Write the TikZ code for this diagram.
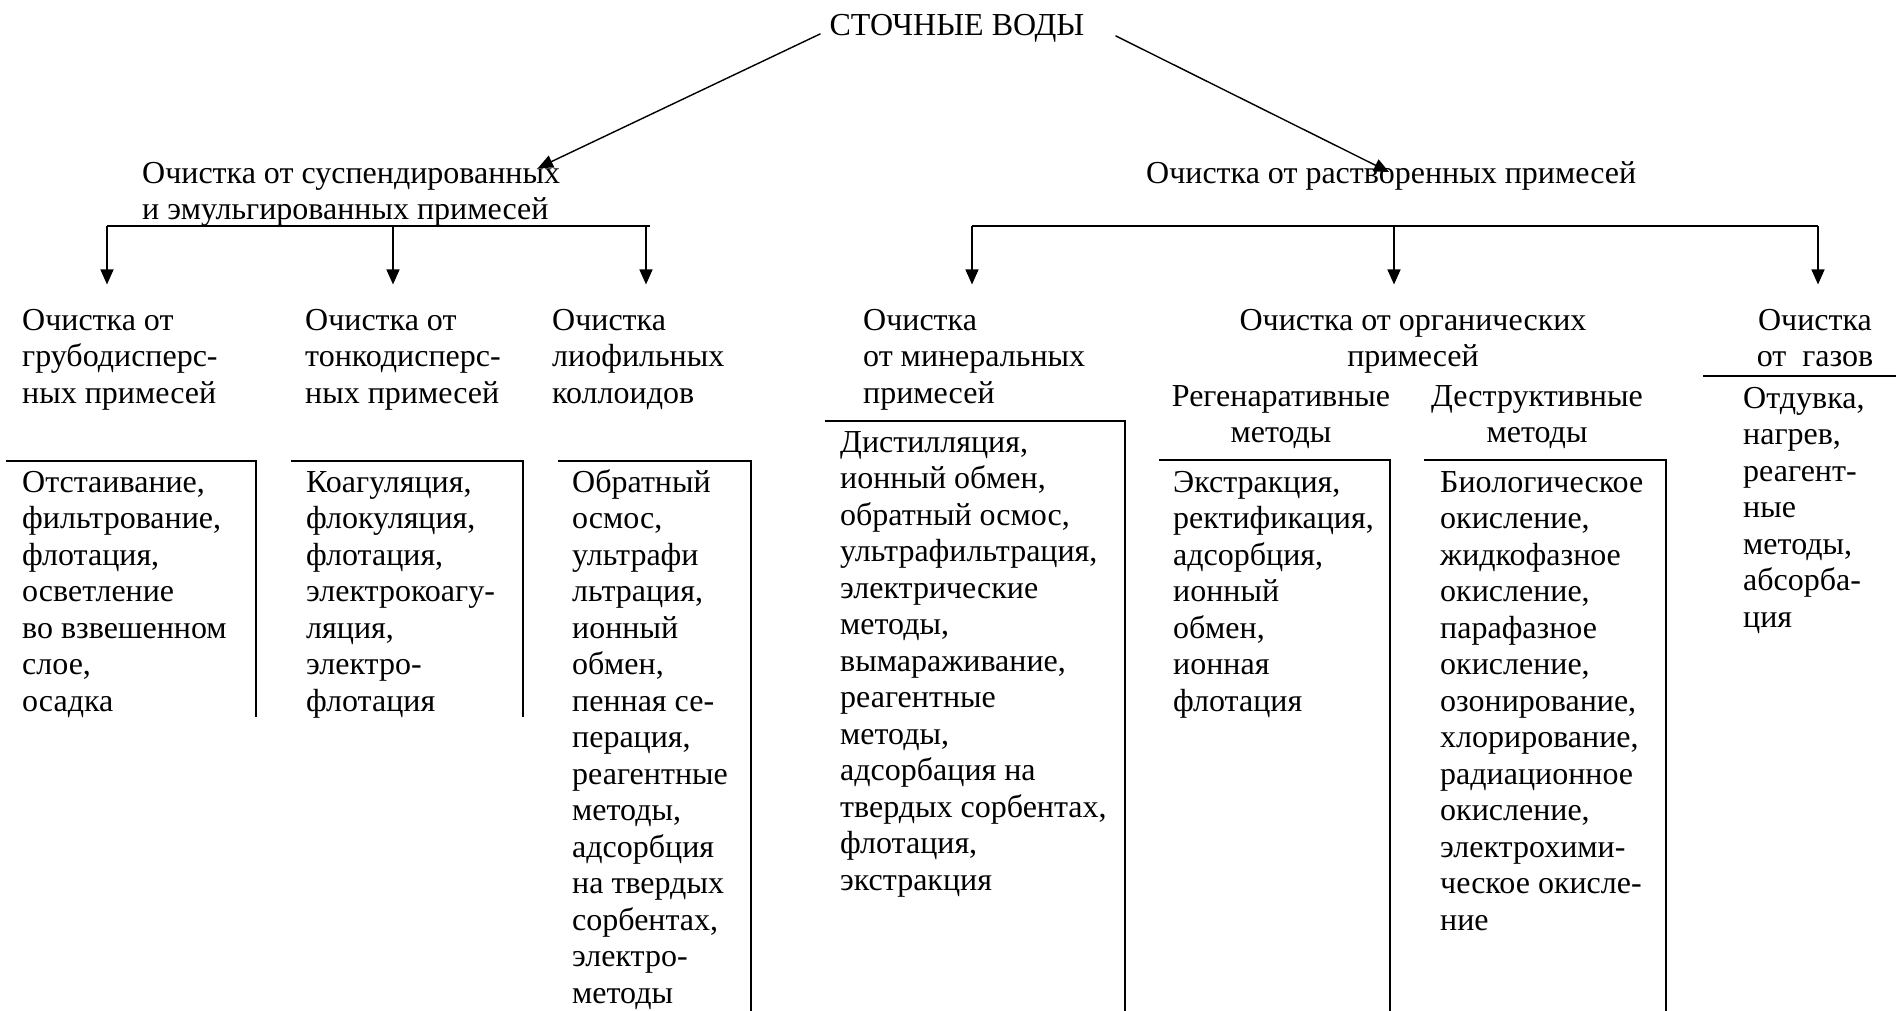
\documentclass[tikz,border=0pt]{standalone}
\usepackage{fontspec}
\setmainfont{Liberation Serif}
\usetikzlibrary{arrows.meta}
\newcommand{\bodyfont}{\fontsize{32pt}{36.5pt}\selectfont}
\tikzset{
	txt/.style={font=\bodyfont, inner sep=0pt, anchor=north west, align=left, yshift=25.55pt},
	ctxt/.style={txt, anchor=north, align=center},
	arr/.style={-{Triangle[length=15pt,width=13pt]}, line width=1.4pt},
	drop/.style={arr, shorten >=20pt},
	box/.style={line width=1.6pt},
}
\begin{document}
\begin{tikzpicture}[x=1pt, y=-1pt]
	\useasboundingbox (0,0) rectangle (1896,1011);
	
	\node[font=\bodyfont, inner sep=0pt, anchor=base] (root) at (957,36) {СТОЧНЫЕ ВОДЫ};
	
	\node[txt] (susp) at (142,183) {\strut Очистка от суспендированных\\и эмульгированных примесей};
	\node[txt] (rastv) at (1146,183) {\strut Очистка от растворенных примесей};
	
	\coordinate (tipA) at (538,168);
	\coordinate (tipB) at (1389,172);
	\draw[arr] ([xshift=-9pt,yshift=-5pt]root.west) -- (tipA);
	\draw[arr] ([xshift=31pt,yshift=-7pt]root.east) -- (tipB);
	
	\begin{scope}
		\node[txt] (h1) at (22,330) {\strut Очистка от\\грубодисперс-\\ных примесей};
		\node[txt] (h2) at (305,330) {\strut Очистка от\\тонкодисперс-\\ных примесей};
		\node[txt] (h3) at (552,330) {\strut Очистка\\лиофильных\\коллоидов};
		
		\coordinate (a1) at (107,226);
		\coordinate (a2) at (393,226);
		\coordinate (a3) at (646,226);
		\draw[line width=1.4pt] (a1) -- ([xshift=4pt]a3);
		\draw[drop] (a1) -- (a1 |- h1.north);
		\draw[drop] (a2) -- (a2 |- h2.north);
		\draw[drop] (a3) -- (a3 |- h3.north);
		
		\draw[box] (6,461) -- (256,461) -- (256,717);
		\draw[box] (291,461) -- (523,461) -- (523,717);
		\draw[box] (558,461) -- (751,461) -- (751,1011);
		
		\node[txt] (m1) at (22,492) {\strut Отстаивание,\\фильтрование,\\флотация,\\осветление\\во взвешенном\\слое,\\осадка};
		\node[txt] (m2) at (306,492) {\strut Коагуляция,\\флокуляция,\\флотация,\\электрокоагу-\\ляция,\\электро-\\флотация};
		\node[txt] (m3) at (572,492) {\strut Обратный\\осмос,\\ультрафи\\льтрация,\\ионный\\обмен,\\пенная се-\\перация,\\реагентные\\методы,\\адсорбция\\на твердых\\сорбентах,\\электро-\\методы};
	\end{scope}
	
	\begin{scope}
		\node[txt] (h4) at (863,330) {\strut Очистка\\от минеральных\\примесей};
		\node[ctxt] (h5) at (1413,330) {\strut Очистка от органических\\примесей};
		\node[ctxt] (h5a) at (1281,406) {\strut Регенаративные\\методы};
		\node[ctxt] (h5b) at (1537,406) {\strut Деструктивные\\методы};
		\node[ctxt] (h6) at (1815,330) {\strut Очистка\\от\ \ газов};
		
		\coordinate (b1) at (972,226);
		\coordinate (b2) at (1394,226);
		\coordinate (b3) at (1818,226);
		\draw[line width=1.4pt] (b1) -- (b3);
		\draw[drop] (b1) -- (b1 |- h4.north);
		\draw[drop] (b2) -- (b2 |- h5.north);
		\draw[drop] (b3) -- (b3 |- h6.north);
		
		\draw[box] (825,421) -- (1125,421) -- (1125,1011);
		\draw[box] (1159,460) -- (1390,460) -- (1390,1011);
		\draw[box] (1424,460) -- (1666,460) -- (1666,1011);
		\draw[box] (1703,376) -- (1896,376);
		
		\node[txt] (m4) at (840,452) {\strut Дистилляция,\\ионный обмен,\\обратный осмос,\\ультрафильтрация,\\электрические\\методы,\\вымараживание,\\реагентные\\методы,\\адсорбация на\\твердых сорбентах,\\флотация,\\экстракция};
		\node[txt] (m5) at (1173,492) {\strut Экстракция,\\ректификация,\\адсорбция,\\ионный\\обмен,\\ионная\\флотация};
		\node[txt] (m6) at (1440,492) {\strut Биологическое\\окисление,\\жидкофазное\\окисление,\\парафазное\\окисление,\\озонирование,\\хлорирование,\\радиационное\\окисление,\\электрохими-\\ческое окисле-\\ние};
		\node[txt] (m7) at (1743,408) {\strut Отдувка,\\нагрев,\\реагент-\\ные\\методы,\\абсорба-\\ция};
	\end{scope}
	
\end{tikzpicture}
\end{document}
